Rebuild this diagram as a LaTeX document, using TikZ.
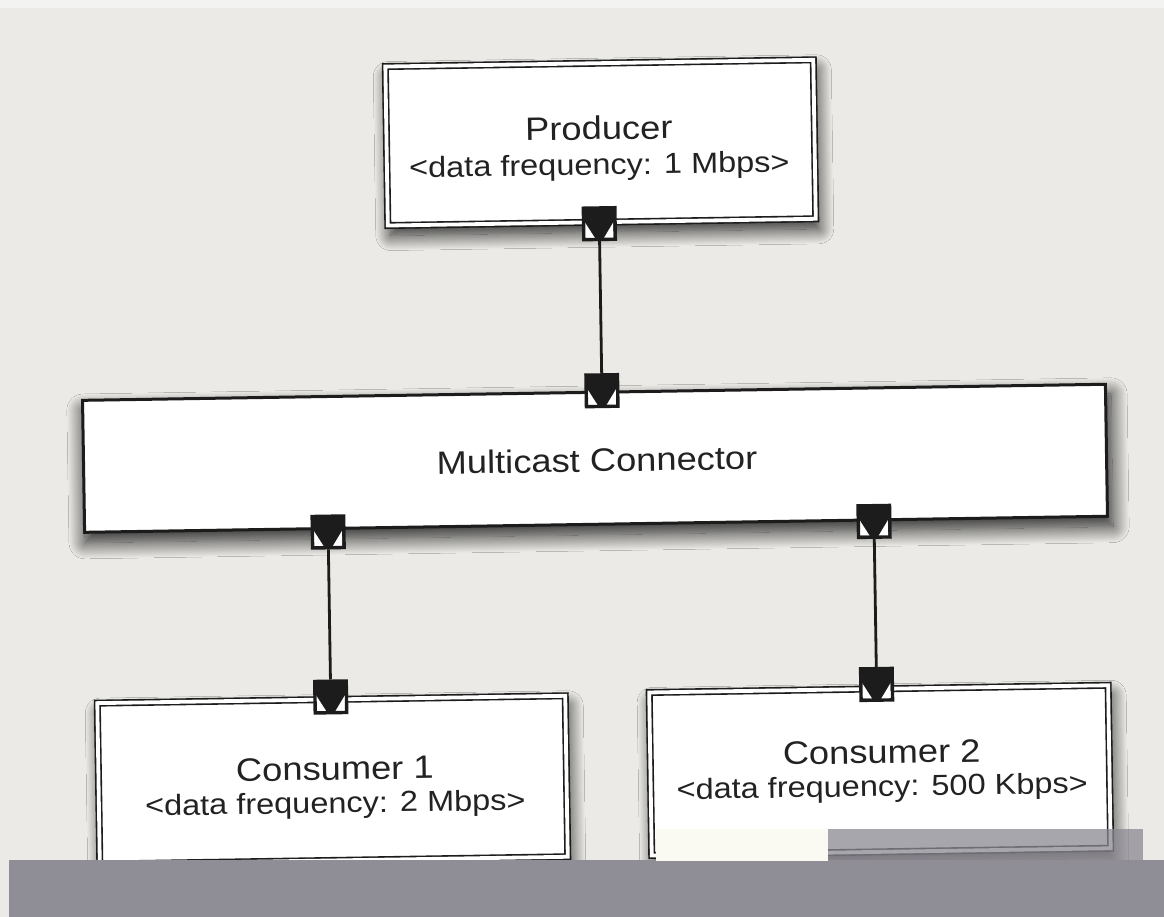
\documentclass[tikz,border=0pt]{standalone}
\usepackage{fontspec}
\newfontfamily\diagfont[FakeStretch=1.12]{Liberation Sans}
\usetikzlibrary{shadows.blur}
\definecolor{paper}{HTML}{EBEAE6}
\definecolor{paperlight}{HTML}{F3F3F1}
\definecolor{band}{HTML}{8F8D96}
\definecolor{bandpatch}{HTML}{8C8992}
\definecolor{cream}{HTML}{FBFAF2}
\definecolor{ink}{HTML}{1C1C1C}
\definecolor{textink}{HTML}{222222}

\begin{document}
\begin{tikzpicture}[x=1pt,y=-1pt,
  comp/.style={draw=ink, line width=1.6pt, double=white, double distance=3.8pt,
    fill=white, inner sep=0pt,
    blur shadow={shadow xshift=3pt, shadow yshift=-10pt, shadow blur radius=15pt,
      shadow blur steps=20, shadow scale=1.0, shadow opacity=85}},
  conn/.style={draw=ink, line width=3pt, fill=white, inner sep=0pt,
    blur shadow={shadow xshift=3pt, shadow yshift=-10pt, shadow blur radius=16pt,
      shadow blur steps=20, shadow scale=1.005, shadow opacity=85}},
  port/.style={draw=ink, fill=ink, line width=3.4pt, minimum size=31.5pt, inner sep=0pt,
    path picture={
      \fill[white] ([shift={(1.7,-1.7)}]path picture bounding box.south west)
        -- ([shift={(1.7,-17.5)}]path picture bounding box.south west)
        -- ([shift={(11.5,-1.7)}]path picture bounding box.south west) -- cycle;
      \fill[white] ([shift={(-1.7,-1.7)}]path picture bounding box.south east)
        -- ([shift={(-1.7,-17.5)}]path picture bounding box.south east)
        -- ([shift={(-11.5,-1.7)}]path picture bounding box.south east) -- cycle;
    }},
  wire/.style={draw=ink, line width=2.8pt},
  title/.style={inner sep=0pt, anchor=base, text=textink,
    font=\diagfont\fontsize{32.4}{36}\selectfont},
  sub/.style={inner sep=0pt, anchor=base, text=textink,
    font=\diagfont\fontsize{29}{33}\selectfont}
]
% page and paper
\useasboundingbox (0,0) rectangle (1164,917);
\fill[paper] (0,0) rectangle (1164,917);
\fill[paperlight] (0,0) rectangle (1164,8);

\begin{scope}[rotate around={0.9:(582,458)}, transform shape]
  % components and connector
  \node[comp, minimum width=428pt, minimum height=159pt] (prod) at (605.5,143) {};
  \node[conn, minimum width=1023pt, minimum height=132pt] (mc) at (595,458.5) {};
  \node[comp, minimum width=468pt, minimum height=161pt] (cons1) at (327.5,776) {};
  \node[comp, minimum width=459pt, minimum height=163pt] (cons2) at (875,775) {};

  % labels
  \node[title] (prodname) at (604,140) {Producer};
  \node[sub] (prodrate) at (604,175) {<data frequency: 1 Mbps>};
  \node[title] (mcname) at (597,472) {Multicast Connector};
  \node[title] (cons1name) at (330,776) {Consumer 1};
  \node[sub] (cons1rate) at (330,809) {<data frequency: 2 Mbps>};
  \node[title] (cons2name) at (877,768) {Consumer 2};
  \node[sub] (cons2rate) at (877,801) {<data frequency: 500 Kbps>};

  % ports
  \node[port] (prodout) at (603,224) {};
  \node[port] (mcin) at (603,391) {};
  \node[port] (mcout1) at (327,528) {};
  \node[port] (mcout2) at (873,526) {};
  \node[port] (cons1in) at (327,693) {};
  \node[port] (cons2in) at (873,689) {};

  % links
  \draw[wire] (prodout.south) -- (mcin.north);
  \draw[wire] (mcout1.south) -- (cons1in.north);
  \draw[wire] (mcout2.south) -- (cons2in.north);
\end{scope}

% grey strip along the lower edge
\fill[band] (9,860) rectangle (1164,917);
\fill[cream] (656,829) rectangle (828,861);
\fill[bandpatch, opacity=0.75] (828,829) rectangle (1143,860);
\end{tikzpicture}
\end{document}
